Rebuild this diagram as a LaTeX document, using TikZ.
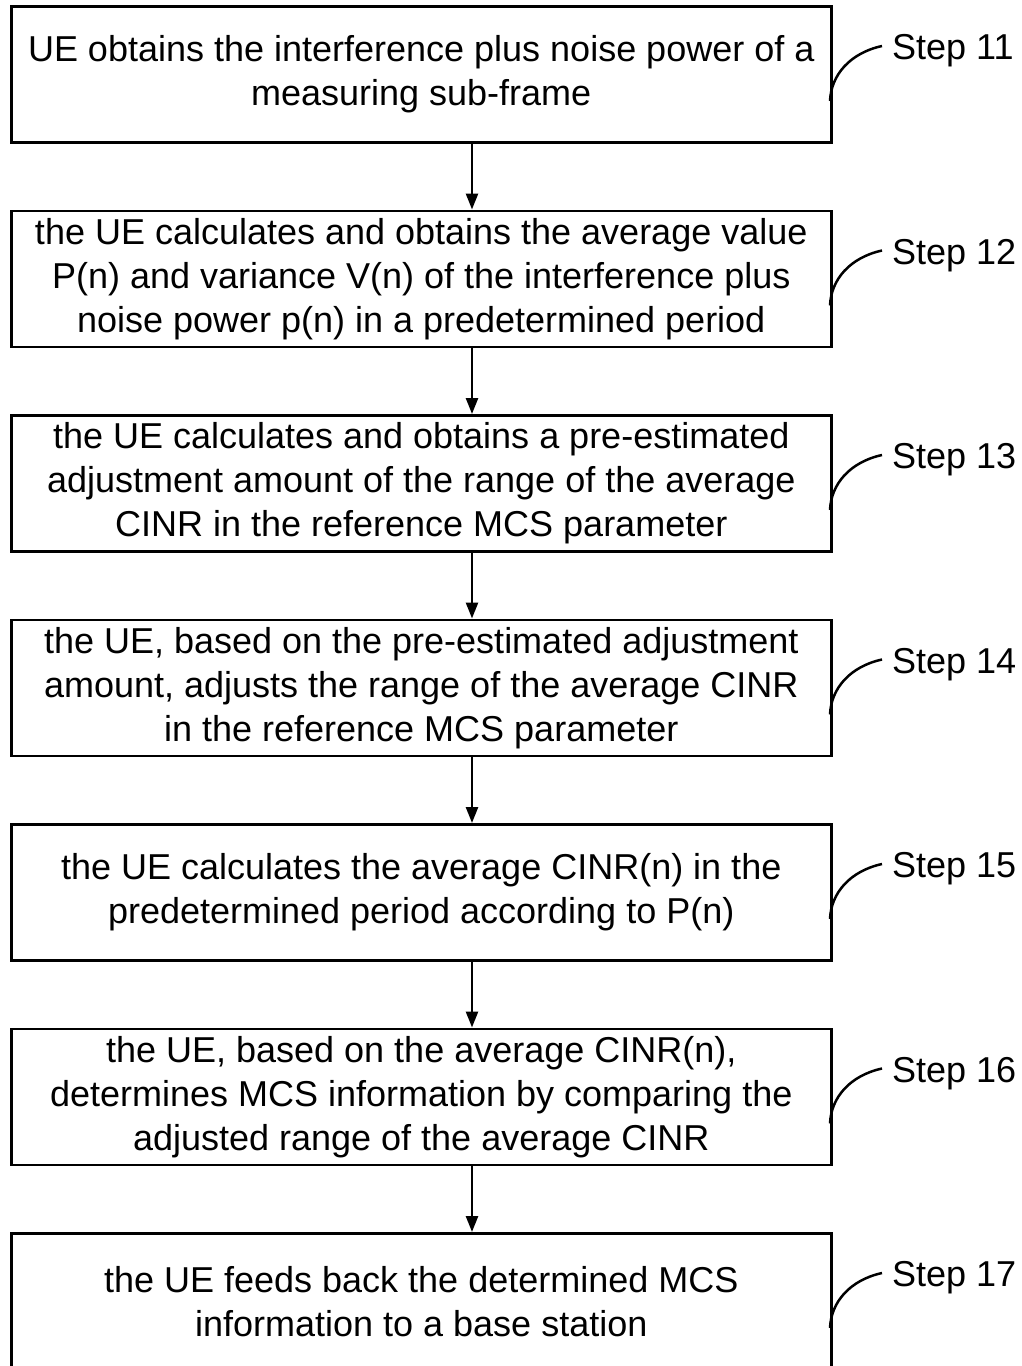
\documentclass[tikz,border=0pt]{standalone}
\usepackage{fontspec}
\setmainfont{Liberation Sans}
\usetikzlibrary{arrows.meta}
\begin{document}
\begin{tikzpicture}[x=1pt,y=-1pt,
  stepbox/.style={draw, line width=2.5pt, minimum width=820pt, minimum height=136pt,
    align=center, font=\fontsize{36}{44}\selectfont, inner sep=0pt, anchor=north west},
  steplabel/.style={anchor=west, inner sep=0pt, font=\fontsize{36}{44}\selectfont},
  flow/.style={line width=2.5pt, -{Triangle[length=16pt,width=12pt]}},
  leader/.style={line width=2.5pt}]
\useasboundingbox (0,0) rectangle (1022,1366);
\clip (0,0) rectangle (1022,1366);

\node[stepbox] (b1) at (10,5) {UE obtains the interference plus noise power of a\\measuring sub-frame};
\node[stepbox] (b2) at (10,209.5) {the UE calculates and obtains the average value\\P(n) and variance V(n) of the interference plus\\noise power p(n) in a predetermined period};
\node[stepbox] (b3) at (10,414) {the UE calculates and obtains a pre-estimated\\adjustment amount of the range of the average\\CINR in the reference MCS parameter};
\node[stepbox] (b4) at (10,618.5) {the UE, based on the pre-estimated adjustment\\amount, adjusts the range of the average CINR\\in the reference MCS parameter};
\node[stepbox] (b5) at (10,823) {the UE calculates the average CINR(n) in the\\predetermined period according to P(n)};
\node[stepbox] (b6) at (10,1027.5) {the UE, based on the average CINR(n),\\determines MCS information by comparing the\\adjusted range of the average CINR};
\node[stepbox] (b7) at (10,1232) {the UE feeds back the determined MCS\\information to a base station};

\foreach \i/\t in {1/5,2/209.5,3/414,4/618.5,5/823,6/1027.5,7/1232}{
  \node[steplabel] (l\i) at (892,\t+46) {Step 1\i};
  \coordinate (c\i) at (830,\t+96);
  \coordinate (e\i) at ([xshift=-10pt,yshift=5pt]l\i.west);
  \draw[leader] (c\i) .. controls (831,\t+70) and (850,\t+48) .. (e\i);
}

\foreach \a/\b in {b1/b2,b2/b3,b3/b4,b4/b5,b5/b6,b6/b7}{
  \draw[flow] (\a.south -| 472,0) -- (\b.north -| 472,0);
}
\end{tikzpicture}
\end{document}
